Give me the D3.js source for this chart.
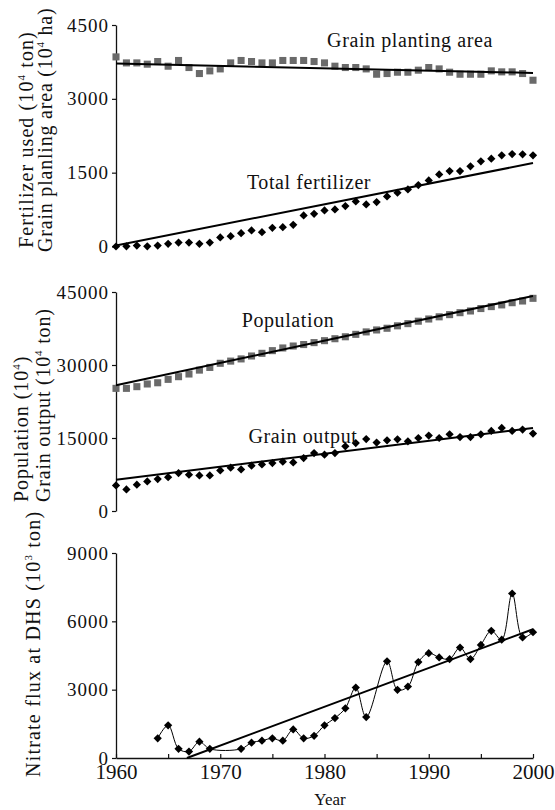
<!DOCTYPE html>
<html>
<head>
<meta charset="utf-8">
<script src="https://cdn.jsdelivr.net/npm/d3@7"></script>
<style>
  body { margin: 0; background: #fff; }
  svg text { font-family: "Liberation Serif", "Times New Roman", serif; fill: #111; }
</style>
</head>
<body>
<svg id="chart" width="555" height="810"></svg>
<script>
// data
const years = [1960,1961,1962,1963,1964,1965,1966,1967,1968,1969,1970,1971,1972,1973,1974,1975,1976,1977,1978,1979,
  1980,1981,1982,1983,1984,1985,1986,1987,1988,1989,1990,1991,1992,1993,1994,1995,1996,1997,1998,1999,2000];

const plantingArea = [3852,3730,3730,3704,3758,3663,3779,3636,3514,3568,3608,3730,3779,3758,3730,3730,3779,3779,3779,3758,
  3730,3663,3636,3636,3608,3500,3514,3541,3541,3582,3636,3608,3541,3500,3500,3500,3568,3548,3548,3514,3378];

const fertilizer = [0,5,20,5,20,55,81,81,55,81,183,210,271,326,292,380,393,441,631,665,
  733,753,821,916,855,902,1018,1092,1160,1248,1343,1465,1533,1533,1628,1730,1785,1852,1879,1872,1852];

const population = [25200,25200,25550,26100,26350,27050,27600,28150,28950,29500,30350,30800,31250,31850,32400,32950,33500,33900,34200,34600,
  35000,35400,35800,36300,36800,37200,37550,38050,38500,39000,39450,39900,40350,40750,41100,41600,42000,42350,42800,43150,43700];

const grainOutput = [5250,4430,5400,6080,6550,6960,7790,7460,7310,7310,8340,8900,8550,9310,9580,9850,10130,9990,10880,11910,
  11580,11910,13290,13970,14790,14050,14520,14730,14320,15000,15490,15000,15760,15200,15200,15760,16440,17060,16440,16730,15900];

const nitrateYears = [1964,1965,1966,1967,1968,1969,1972,1973,1974,1975,1976,1977,1978,1979,1980,1981,1982,1983,1984,
  1986,1987,1988,1989,1990,1991,1992,1993,1994,1995,1996,1997,1998,1999,2000];
const nitrateFlux = [863,1437,401,285,717,401,401,674,760,863,760,1252,863,976,1437,1753,2184,3091,1796,
  4244,2992,3134,4213,4602,4416,4343,4848,4343,4964,5582,5193,7222,5293,5526];

// fitted lines as drawn: [year, value] at each end
const areaTrend = [[1960, 3717], [2000, 3527]];
const fertTrend = [[1960, 20], [2000, 1695]];
const popTrend = [[1960, 25850], [2000, 44190]];
const grainTrend = [[1960, 6430], [2000, 17060]];
const nitrateTrend = [[1966.8, 0], [2000, 5655]];

const topTicks = [0, 1500, 3000, 4500];
const midTicks = [0, 15000, 30000, 45000];
const botTicks = [0, 3000, 6000, 9000];
const yearTicks = [1960,1965,1970,1975,1980,1985,1990,1995,2000];

const svg = d3.select('#chart');
const grey = '#6a6a6a';

const x = d3.scaleLinear().domain([1960, 2000]).range([116, 533]);
const yTop = d3.scaleLinear().domain([0, 4500]).range([246.5, 25]);
const yMid = d3.scaleLinear().domain([0, 45000]).range([511, 292]);
const yBot = d3.scaleLinear().domain([0, 9000]).range([758, 553]);

const sq = d3.symbol().type(d3.symbolSquare).size(50);
const dia = d3.symbol().type(d3.symbolSquare).size(34);

function yAxis(scale, ticks) {
  const g = svg.append('g')
    .attr('transform', 'translate(116,0)')
    .call(d3.axisLeft(scale).tickValues(ticks).tickFormat(d3.format('d'))
      .tickSize(4).tickSizeOuter(0).tickPadding(3));
  g.select('.domain').attr('stroke', '#111').attr('stroke-width', 1.3);
  g.selectAll('.tick line').attr('stroke', '#111').attr('stroke-width', 1.2);
  g.selectAll('text').style('font-size', '19px').style('letter-spacing', '1px')
    .attr('dy', '0.32em');
}

function squares(scale, vals) {
  svg.append('g').selectAll('path')
    .data(vals)
    .enter()
    .append('path')
    .attr('d', sq)
    .attr('transform', (d, i) => `translate(${x(years[i])},${scale(d)})`)
    .attr('fill', grey);
}

function diamonds(scale, xs, vals) {
  svg.append('g').selectAll('path')
    .data(vals)
    .enter()
    .append('path')
    .attr('d', dia)
    .attr('transform', (d, i) => `translate(${x(xs[i])},${scale(d)}) rotate(45)`)
    .attr('fill', '#000');
}

function trend(scale, pts) {
  svg.append('path')
    .attr('d', d3.line().x(d => x(d[0])).y(d => scale(d[1]))(pts))
    .attr('fill', 'none')
    .attr('stroke', '#000')
    .attr('stroke-width', 2);
}

function label(txt, cx, by) {
  svg.append('text')
    .attr('x', cx).attr('y', by)
    .attr('text-anchor', 'middle')
    .style('font-size', '20px')
    .style('letter-spacing', '0.6px')
    .text(txt);
}

// rotated axis title, parts: [text, superscript, text]
function yTitle(parts, bx, by, ls) {
  const t = svg.append('text')
    .attr('transform', `translate(${bx},${by}) rotate(-90)`)
    .style('font-size', '20px')
    .style('letter-spacing', ls + 'px');
  t.append('tspan').text(parts[0]);
  t.append('tspan').attr('dy', -8).style('font-size', '11px').text(parts[1]);
  t.append('tspan').attr('dy', 8).text(parts[2]);
}

// top panel
yAxis(yTop, topTicks);
squares(yTop, plantingArea);
trend(yTop, areaTrend);
diamonds(yTop, years, fertilizer);
trend(yTop, fertTrend);
label('Grain planting area', 410, 47);
label('Total fertilizer', 309, 189);
yTitle(['Fertilizer used (10', '4', ' ton)'], 33, 248, 1.1);
yTitle(['Grain planling area (10', '4', ' ha)'], 52, 252, 0.8);

// middle panel
yAxis(yMid, midTicks);
squares(yMid, population);
trend(yMid, popTrend);
diamonds(yMid, years, grainOutput);
trend(yMid, grainTrend);
label('Population', 288, 327);
label('Grain output', 303, 443);
yTitle(['Population (10', '4', ')'], 28, 502, 1.0);
yTitle(['Grain output (10', '4', ' ton)'], 50, 502, 0.8);

// bottom panel
yAxis(yBot, botTicks);
const xg = svg.append('g')
  .attr('transform', `translate(0,${yBot(0)})`)
  .call(d3.axisBottom(x).tickValues(yearTicks).tickSize(-4).tickSizeOuter(0).tickPadding(6)
    .tickFormat(d => d % 10 === 0 ? d : ''));
xg.select('.domain').attr('stroke', '#111').attr('stroke-width', 1.3);
xg.selectAll('.tick line').attr('stroke', '#111').attr('stroke-width', 1.2);
xg.selectAll('text').style('font-size', '21px');

trend(yBot, nitrateTrend);
svg.append('path')
  .datum(nitrateFlux)
  .attr('d', d3.line().x((d, i) => x(nitrateYears[i])).y(d => yBot(d)).curve(d3.curveCatmullRom.alpha(0.5)))
  .attr('fill', 'none')
  .attr('stroke', '#000')
  .attr('stroke-width', 1);
diamonds(yBot, nitrateYears, nitrateFlux);

yTitle(['Nitrate flux at DHS (10', '3', ' ton)'], 40, 777, 1.2);

svg.append('text')
  .attr('x', 330).attr('y', 805)
  .attr('text-anchor', 'middle')
  .style('font-size', '17px')
  .text('Year');
</script>
</body>
</html>
